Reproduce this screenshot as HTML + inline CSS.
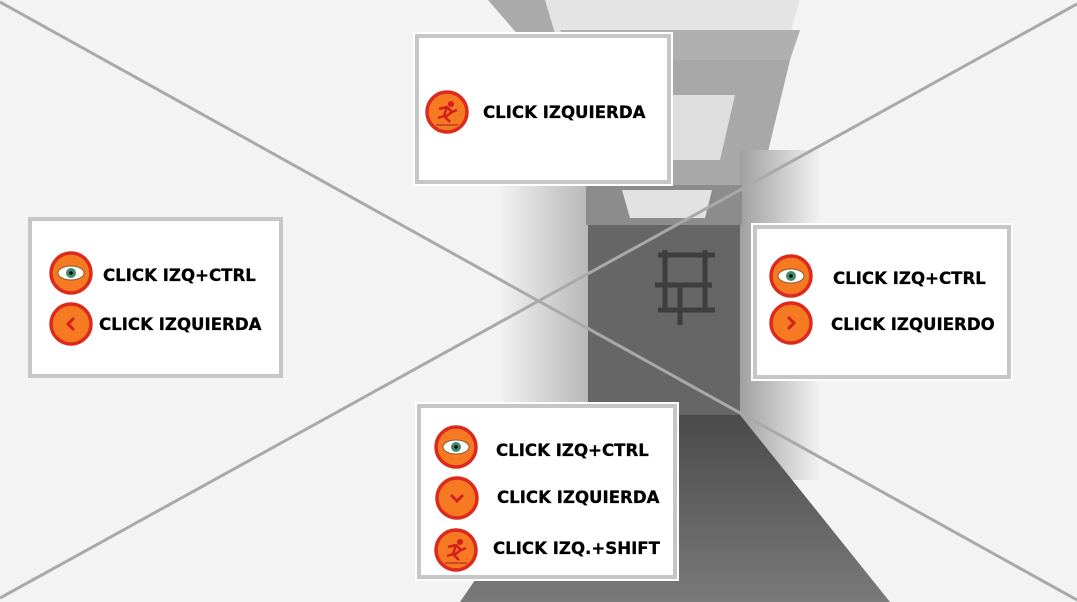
<!DOCTYPE html>
<html><head><meta charset="utf-8"><style>
html,body{margin:0;padding:0;width:1077px;height:602px;overflow:hidden;background:#f4f4f4}
text{font-family:"DejaVu Sans","Liberation Sans",sans-serif;font-weight:bold;font-size:16.6px;fill:#000;stroke:#000;stroke-width:0.3}
</style></head><body>
<svg width="1077" height="602" viewBox="0 0 1077 602" xmlns="http://www.w3.org/2000/svg">
<defs>
<linearGradient id="lw" x1="0" x2="1" y1="0" y2="0"><stop offset="0" stop-color="#f2f2f2"/><stop offset="1" stop-color="#b8b8b8"/></linearGradient>
<linearGradient id="rw" x1="0" x2="1" y1="0" y2="0"><stop offset="0" stop-color="#a0a0a0"/><stop offset="1" stop-color="#f2f2f2"/></linearGradient>
<linearGradient id="fl" x1="0" x2="0" y1="0" y2="1"><stop offset="0" stop-color="#4a4a4a"/><stop offset="1" stop-color="#7a7a7a"/></linearGradient>
<g id="ring"><circle r="20" fill="#f57a22" stroke="#de2a1e" stroke-width="3.5"/></g>
<g id="eye"><use href="#ring"/><ellipse rx="13" ry="7" fill="#fff" stroke="#8a5a2a" stroke-width="1"/><circle r="5" fill="#3f8a6e"/><circle r="1.8" fill="#000"/></g>
<g id="run"><use href="#ring"/><circle cx="4" cy="-8" r="3" fill="#d41e1e"/><path d="M-8 -3 L0 -5 L5 0 L-2 5 L3 10 M0 -5 L-3 4 L-9 6 M5 0 L10 -2" stroke="#d41e1e" stroke-width="2.5" fill="none"/><line x1="-11" y1="13" x2="11" y2="13" stroke="#a02020" stroke-width="1"/></g>
</defs>
<rect width="1077" height="602" fill="#f3f3f3"/>
<!-- ceiling -->
<polygon points="488,0 545,0 600,120 610,185 586,185 540,60" fill="#aaaaaa"/>
<polygon points="545,0 800,0 745,185 600,185" fill="#e4e4e4"/>
<polygon points="560,30 800,30 790,60 578,60" fill="#b0b0b0"/>
<polygon points="578,60 790,60 760,185 600,185" fill="#a8a8a8"/>
<polygon points="595,95 735,95 720,160 615,160" fill="#dedede"/>
<!-- side walls near corridor -->
<rect x="500" y="150" width="88" height="340" fill="url(#lw)"/>
<rect x="740" y="150" width="80" height="330" fill="url(#rw)"/>
<polygon points="586,185 742,185 742,225 586,225" fill="#8c8c8c"/>
<polygon points="622,190 712,190 705,218 630,218" fill="#e2e2e2"/>
<rect x="588" y="225" width="152" height="190" fill="#666"/>
<path d="M658 255 H715 M665 250 V310 M705 250 V310 M655 285 H712 M658 310 H715 M680 285 V325" stroke="#3e3e3e" stroke-width="5" fill="none"/>
<polygon points="588,415 740,415 890,602 460,602" fill="url(#fl)"/>
<!-- diagonals -->
<line x1="0" y1="2" x2="1077" y2="600" stroke="#a9a9a9" stroke-width="3"/>
<line x1="0" y1="598" x2="1077" y2="4" stroke="#a9a9a9" stroke-width="3"/>
<!-- top box -->
<rect x="414" y="33" width="258" height="152" fill="#fff" stroke="#fff" stroke-width="2"/>
<rect x="417" y="36" width="252" height="146" fill="#fff" stroke="#c6c6c6" stroke-width="4"/>
<use href="#run" x="447" y="112"/>
<text x="483" y="118">CLICK IZQUIERDA</text>
<!-- left box -->
<rect x="30" y="219" width="251" height="157" fill="#fff" stroke="#c6c6c6" stroke-width="4"/>
<use href="#eye" x="71" y="273"/>
<use href="#ring" x="71" y="324"/>
<path d="M74 318 L68 324 L74 330" stroke="#d42020" stroke-width="3" fill="none"/>
<text x="103" y="281">CLICK IZQ+CTRL</text>
<text x="99" y="330">CLICK IZQUIERDA</text>
<!-- right box -->
<rect x="752" y="224" width="260" height="156" fill="#fff" stroke="#fff" stroke-width="2"/>
<rect x="755" y="227" width="254" height="150" fill="#fff" stroke="#c6c6c6" stroke-width="4"/>
<use href="#eye" x="791" y="276"/>
<use href="#ring" x="791" y="323"/>
<path d="M788 317 L794 323 L788 329" stroke="#d42020" stroke-width="3" fill="none"/>
<text x="833" y="284">CLICK IZQ+CTRL</text>
<text x="831" y="330">CLICK IZQUIERDO</text>
<!-- bottom box -->
<rect x="416" y="403" width="262" height="177" fill="#fff" stroke="#fff" stroke-width="2"/>
<rect x="419" y="406" width="256" height="171" fill="#fff" stroke="#c6c6c6" stroke-width="4"/>
<use href="#eye" x="456" y="447"/>
<use href="#ring" x="457" y="498"/>
<path d="M451 495 L457 501 L463 495" stroke="#d42020" stroke-width="3" fill="none"/>
<use href="#run" x="456" y="550"/>
<text x="496" y="456">CLICK IZQ+CTRL</text>
<text x="497" y="503">CLICK IZQUIERDA</text>
<text x="493" y="554">CLICK IZQ.+SHIFT</text>
</svg>
</body></html>
